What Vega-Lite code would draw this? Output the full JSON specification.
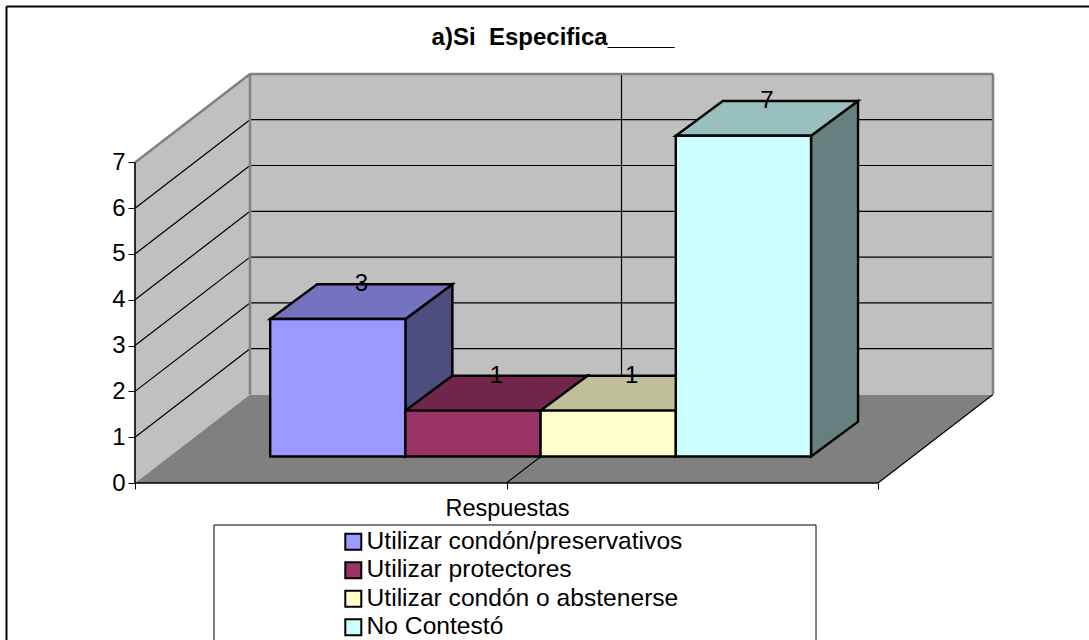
{
"$schema":"https://vega.github.io/schema/vega-lite/v6.json",
"width":858,"height":408,
"autosize":{"type":"none"},
"padding":{"left":135,"top":75,"right":96,"bottom":157},
"background":"white",
"title":{"text":"a)Si\u00a0 Especifica_____","font":"Liberation Sans","fontSize":24,"fontWeight":"bold","color":"black","anchor":"middle","frame":"group","dx":-11,"dy":45,"offset":0},
"config":{"view":{"stroke":null},"font":"Liberation Sans"},
"params":[{"name":"W","value":5.4956},{"name":"Dx","value":0.8506},{"name":"Dy","value":1.932},{"name":"B","value":0.58},{"name":"bx","value":0.3476},{"name":"by","value":0.76}],
"datasets":{
"barras":[{"respuesta":"Utilizar condón/preservativos","valor":3,"orden":0},{"respuesta":"Utilizar protectores","valor":1,"orden":1},{"respuesta":"Utilizar condón o abstenerse","valor":1,"orden":2},{"respuesta":"No Contestó","valor":7,"orden":3}],
"marcas":[{"v":1},{"v":2},{"v":3},{"v":4},{"v":5},{"v":6},{"v":7}],
"prof":[{"p":0},{"p":1}],
"uno":[{"u":1}]
},
"resolve":{"scale":{"fill":"independent"}},
"layer":[
{"data":{"name":"prof"},"transform":[{"calculate":"datum.p*Dx","as":"x"},{"calculate":"datum.p*Dy","as":"y"},{"calculate":"7+datum.p*Dy","as":"y2"}],
 "mark":{"type":"area","orient":"vertical","fill":"#C0C0C0"},
 "encoding":{
  "x":{"field":"x","type":"quantitative","scale":{"domain":[0,6.346],"nice":false,"zero":false},"axis":{"values":[0,2.7478,5.4956],"labels":false,"grid":false,"domain":false,"ticks":true,"tickSize":6,"tickColor":"black","title":"Respuestas","titleFont":"Liberation Sans","titleFontSize":23.5,"titleFontWeight":"normal","titleColor":"black","titleX":372,"titleY":32,"titleAlign":"center","titleBaseline":"alphabetic"}},
  "y":{"field":"y","type":"quantitative","scale":{"domain":[0,8.908],"nice":false,"zero":false},"axis":{"values":[0,1,2,3,4,5,6,7],"grid":false,"domain":false,"tickSize":7,"tickColor":"black","labelFont":"Liberation Sans","labelFontSize":24,"labelColor":"black","labelPadding":3,"title":null}},
  "y2":{"field":"y2"}}},
{"data":{"name":"prof"},"transform":[{"calculate":"datum.p*Dx","as":"x"},{"calculate":"W+datum.p*Dx","as":"x2"},{"calculate":"datum.p*Dy","as":"y"}],
 "mark":{"type":"area","orient":"horizontal","fill":"#808080"},
 "encoding":{"x":{"field":"x","type":"quantitative"},"x2":{"field":"x2"},"y":{"field":"y","type":"quantitative"}}},
{"data":{"name":"uno"},"transform":[{"calculate":"Dx","as":"x"},{"calculate":"Dx+W","as":"x2"},{"calculate":"Dy","as":"y"},{"calculate":"Dy+7","as":"y2"}],
 "mark":{"type":"rect","fill":"#C0C0C0"},
 "encoding":{"x":{"field":"x","type":"quantitative"},"x2":{"field":"x2"},"y":{"field":"y","type":"quantitative"},"y2":{"field":"y2"}}},
{"data":{"name":"marcas"},"transform":[{"filter":"datum.v<7"},{"calculate":"0","as":"x"},{"calculate":"datum.v","as":"y"},{"calculate":"Dx","as":"x2"},{"calculate":"datum.v+Dy","as":"y2"}],
 "mark":{"type":"rule","stroke":"black","strokeWidth":1.2},
 "encoding":{"x":{"field":"x","type":"quantitative"},"x2":{"field":"x2"},"y":{"field":"y","type":"quantitative"},"y2":{"field":"y2"}}},
{"data":{"name":"marcas"},"transform":[{"filter":"datum.v<7"},{"calculate":"Dx","as":"x"},{"calculate":"datum.v+Dy","as":"y"},{"calculate":"Dx+W","as":"x2"}],
 "mark":{"type":"rule","stroke":"black","strokeWidth":1.2},
 "encoding":{"x":{"field":"x","type":"quantitative"},"x2":{"field":"x2"},"y":{"field":"y","type":"quantitative"}}},
{"data":{"name":"uno"},"transform":[{"calculate":"Dx+W/2","as":"x"},{"calculate":"Dy","as":"y"},{"calculate":"Dy+7","as":"y2"}],
 "mark":{"type":"rule","stroke":"black","strokeWidth":1.2},
 "encoding":{"x":{"field":"x","type":"quantitative"},"y":{"field":"y","type":"quantitative"},"y2":{"field":"y2"}}},
{"data":{"name":"uno"},"transform":[{"calculate":"W/2","as":"x"},{"calculate":"0","as":"y"},{"calculate":"W/2+Dx","as":"x2"},{"calculate":"Dy","as":"y2"}],
 "mark":{"type":"rule","stroke":"black","strokeWidth":1.2},
 "encoding":{"x":{"field":"x","type":"quantitative"},"x2":{"field":"x2"},"y":{"field":"y","type":"quantitative"},"y2":{"field":"y2"}}},
{"data":{"name":"uno"},"transform":[{"calculate":"W","as":"x"},{"calculate":"0","as":"y"},{"calculate":"W+Dx","as":"x2"},{"calculate":"Dy","as":"y2"}],
 "mark":{"type":"rule","stroke":"black","strokeWidth":1.2},
 "encoding":{"x":{"field":"x","type":"quantitative"},"x2":{"field":"x2"},"y":{"field":"y","type":"quantitative"},"y2":{"field":"y2"}}},
{"data":{"name":"uno"},"transform":[{"calculate":"0","as":"x"},{"calculate":"7","as":"y"},{"calculate":"Dx","as":"x2"},{"calculate":"7+Dy","as":"y2"}],
 "mark":{"type":"rule","stroke":"#808080","strokeWidth":2.5},
 "encoding":{"x":{"field":"x","type":"quantitative"},"x2":{"field":"x2"},"y":{"field":"y","type":"quantitative"},"y2":{"field":"y2"}}},
{"data":{"name":"uno"},"transform":[{"calculate":"Dx","as":"x"},{"calculate":"7+Dy","as":"y"},{"calculate":"Dx+W","as":"x2"}],
 "mark":{"type":"rule","stroke":"#808080","strokeWidth":2.5},
 "encoding":{"x":{"field":"x","type":"quantitative"},"x2":{"field":"x2"},"y":{"field":"y","type":"quantitative"}}},
{"data":{"name":"uno"},"transform":[{"calculate":"Dx","as":"x"},{"calculate":"Dy","as":"y"},{"calculate":"Dy+7","as":"y2"}],
 "mark":{"type":"rule","stroke":"#808080","strokeWidth":2.5},
 "encoding":{"x":{"field":"x","type":"quantitative"},"y":{"field":"y","type":"quantitative"},"y2":{"field":"y2"}}},
{"data":{"name":"uno"},"transform":[{"calculate":"Dx+W","as":"x"},{"calculate":"Dy","as":"y"},{"calculate":"Dy+7","as":"y2"}],
 "mark":{"type":"rule","stroke":"#808080","strokeWidth":2.5},
 "encoding":{"x":{"field":"x","type":"quantitative"},"y":{"field":"y","type":"quantitative"},"y2":{"field":"y2"}}},
{"data":{"name":"uno"},"transform":[{"calculate":"0","as":"x"},{"calculate":"0","as":"y"},{"calculate":"7","as":"y2"}],
 "mark":{"type":"rule","stroke":"black","strokeWidth":1.6},
 "encoding":{"x":{"field":"x","type":"quantitative"},"y":{"field":"y","type":"quantitative"},"y2":{"field":"y2"}}},
{"data":{"name":"uno"},"transform":[{"calculate":"0","as":"x"},{"calculate":"0","as":"y"},{"calculate":"W","as":"x2"}],
 "mark":{"type":"rule","stroke":"black","strokeWidth":1.6},
 "encoding":{"x":{"field":"x","type":"quantitative"},"x2":{"field":"x2"},"y":{"field":"y","type":"quantitative"}}},
{"data":{"name":"barras"},"transform":[{"calculate":"[0,1]","as":"t"},{"flatten":["t"]},{"calculate":"datum.orden+2+datum.t*bx","as":"x"},{"calculate":"B+datum.t*by","as":"y"},{"calculate":"B+datum.valor+datum.t*by","as":"y2"}],
 "mark":{"type":"area","orient":"vertical","stroke":"black","strokeWidth":2.4},
 "encoding":{"x":{"field":"x","type":"quantitative"},"y":{"field":"y","type":"quantitative"},"y2":{"field":"y2"},
  "fill":{"field":"respuesta","type":"nominal","legend":null,"scale":{"domain":["Utilizar condón/preservativos","Utilizar protectores","Utilizar condón o abstenerse","No Contestó"],"range":["#4D4D80","#4D1A33","#808066","#668080"]}}}},
{"data":{"name":"barras"},"transform":[{"calculate":"[0,1]","as":"t"},{"flatten":["t"]},{"calculate":"datum.orden+1+datum.t*bx","as":"x"},{"calculate":"datum.orden+2+datum.t*bx","as":"x2"},{"calculate":"B+datum.valor+datum.t*by","as":"y"}],
 "mark":{"type":"area","orient":"horizontal","stroke":"black","strokeWidth":2.4},
 "encoding":{"x":{"field":"x","type":"quantitative"},"x2":{"field":"x2"},"y":{"field":"y","type":"quantitative"},
  "fill":{"field":"respuesta","type":"nominal","legend":null,"scale":{"domain":["Utilizar condón/preservativos","Utilizar protectores","Utilizar condón o abstenerse","No Contestó"],"range":["#7373BF","#73264C","#BFBF99","#99BFBF"]}}}},
{"data":{"name":"uno"},"transform":[{"calculate":"0.584","as":"x"},{"calculate":"5.037","as":"x2"},{"calculate":"-0.917","as":"y"},{"calculate":"-3.7","as":"y2"}],
 "mark":{"type":"rect","fill":"white","stroke":"black","strokeWidth":1},
 "encoding":{"x":{"field":"x","type":"quantitative"},"x2":{"field":"x2"},"y":{"field":"y","type":"quantitative"},"y2":{"field":"y2"}}},
{"data":{"name":"barras"},"transform":[{"calculate":"datum.orden+1","as":"x"},{"calculate":"datum.orden+2","as":"x2"},{"calculate":"B","as":"y"},{"calculate":"B+datum.valor","as":"y2"}],
 "mark":{"type":"rect","stroke":"black","strokeWidth":2.4},
 "encoding":{"x":{"field":"x","type":"quantitative"},"x2":{"field":"x2"},"y":{"field":"y","type":"quantitative"},"y2":{"field":"y2"},
  "fill":{"field":"respuesta","type":"nominal","scale":{"domain":["Utilizar condón/preservativos","Utilizar protectores","Utilizar condón o abstenerse","No Contestó"],"range":["#9999FF","#993366","#FFFFCC","#CCFFFF"]},
   "legend":{"orient":"none","legendX":206,"legendY":454.5,"title":null,"symbolType":"square","symbolSize":256,"symbolStrokeColor":"black","symbolStrokeWidth":2,"labelFont":"Liberation Sans","labelFontSize":24.6,"labelColor":"black","labelOffset":1,"rowPadding":2.5,"labelLimit":400,"padding":0}}}},
{"data":{"name":"barras"},"transform":[{"calculate":"datum.orden+1.5+bx/2","as":"x"},{"calculate":"B+datum.valor+by","as":"y"}],
 "mark":{"type":"text","font":"Liberation Sans","fontSize":24,"color":"black","baseline":"middle","align":"center"},
 "encoding":{"x":{"field":"x","type":"quantitative"},"y":{"field":"y","type":"quantitative"},"text":{"field":"valor","type":"quantitative"}}},
{"data":{"name":"uno"},"transform":[{"calculate":"-0.9504","as":"x"},{"calculate":"7.06","as":"x2"},{"calculate":"10.404","as":"y"}],
 "mark":{"type":"rule","stroke":"black","strokeWidth":2},
 "encoding":{"x":{"field":"x","type":"quantitative"},"x2":{"field":"x2"},"y":{"field":"y","type":"quantitative"}}},
{"data":{"name":"uno"},"transform":[{"calculate":"-0.9504","as":"x"},{"calculate":"10.404","as":"y"},{"calculate":"-3.5","as":"y2"}],
 "mark":{"type":"rule","stroke":"black","strokeWidth":2},
 "encoding":{"x":{"field":"x","type":"quantitative"},"y":{"field":"y","type":"quantitative"},"y2":{"field":"y2"}}}
]
}
